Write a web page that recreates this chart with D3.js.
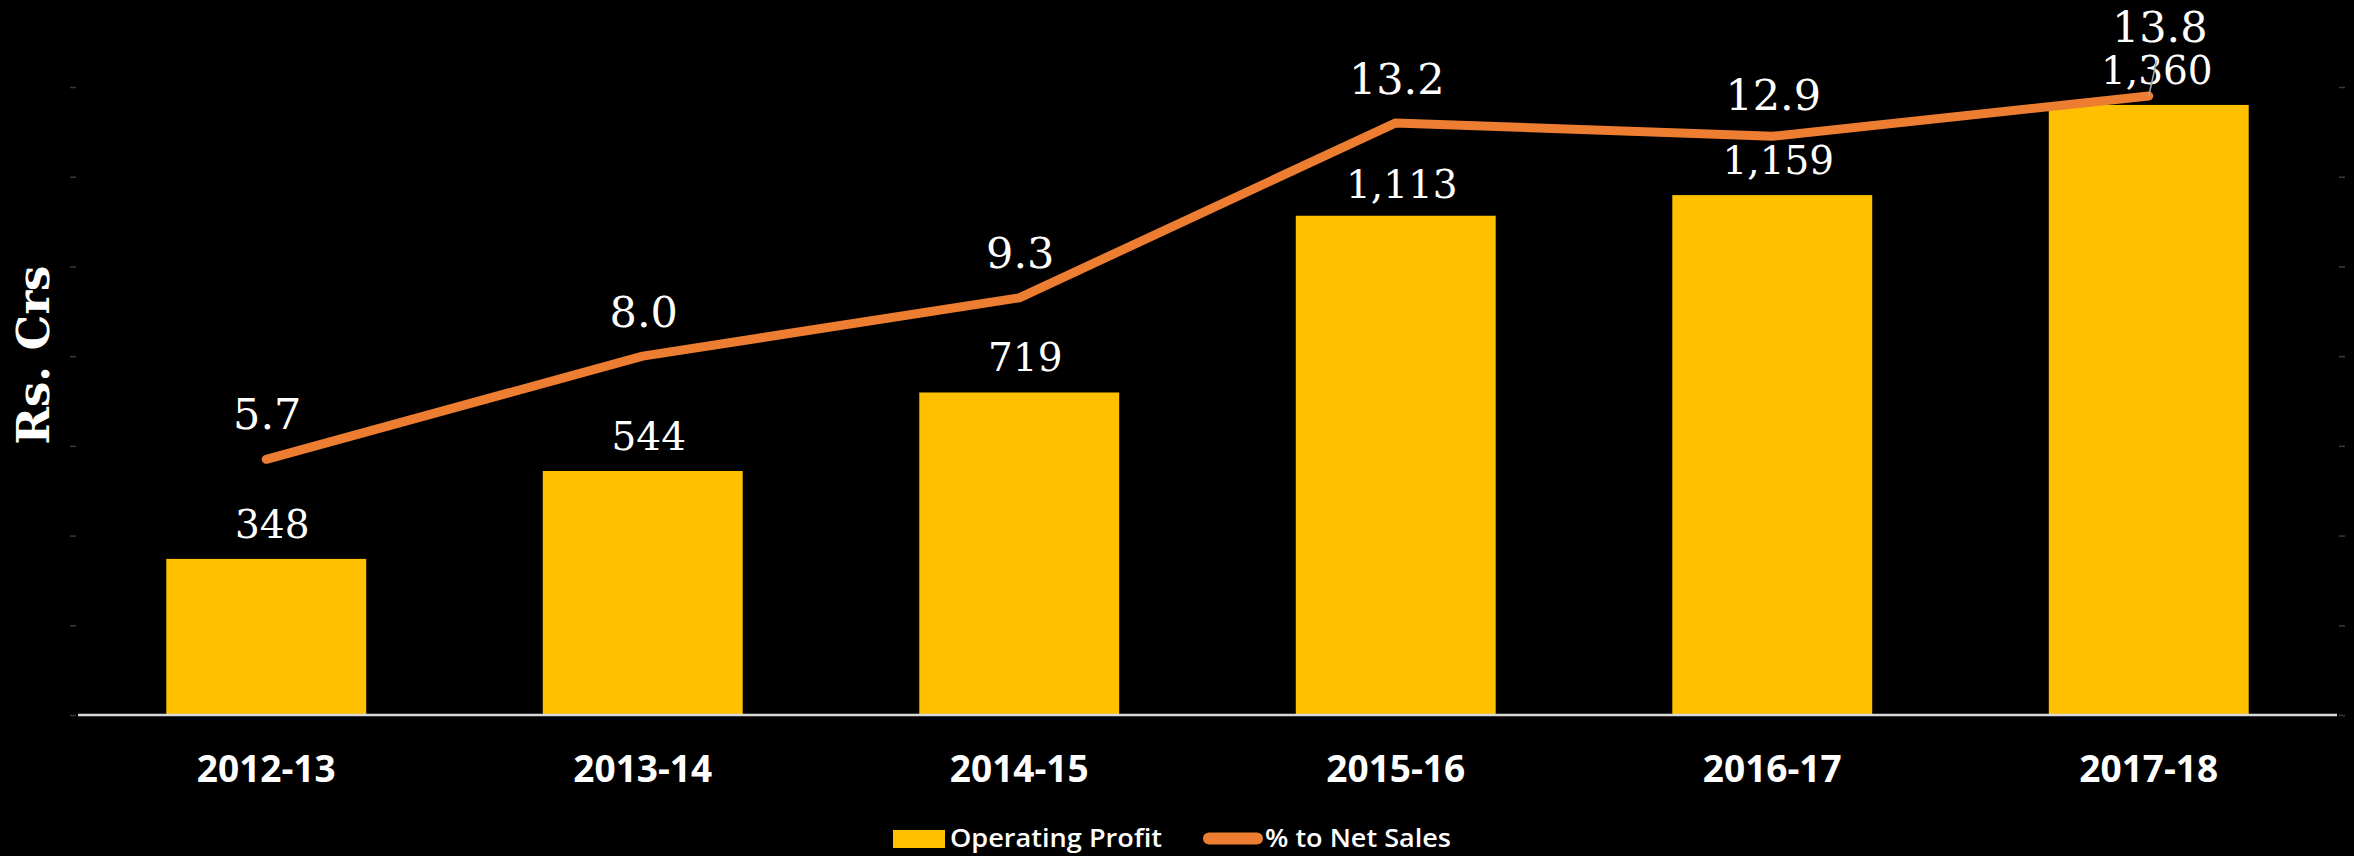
<!DOCTYPE html>
<html>
<head>
<meta charset="utf-8">
<script src="https://cdn.jsdelivr.net/npm/d3@7"></script>
<style>
  html, body { margin: 0; padding: 0; background: #000; }
  svg { display: block; }
</style>
</head>
<body>
<svg id="chart" width="2354" height="856"></svg>
<script>
// Operating profit (Rs. Crs) and its share of net sales (%)
const years = ["2012-13", "2013-14", "2014-15", "2015-16", "2016-17", "2017-18"];
const operatingProfit = [348, 544, 719, 1113, 1159, 1360];
const pctNetSales = [5.7, 8.0, 9.3, 13.2, 12.9, 13.8];
const profitTicks = [0, 200, 400, 600, 800, 1000, 1200, 1400];
const pctTicks = [0, 2, 4, 6, 8, 10, 12, 14];

const svg = d3.select("#chart");
const W = 2354, H = 856;
svg.append("rect").attr("width", W).attr("height", H).attr("fill", "#000");

const plot = { left: 78, right: 2337, top: 87, bottom: 715 };

const x = d3.scaleBand()
  .domain(years)
  .range([plot.left, plot.right])
  .paddingInner(0.469)
  .paddingOuter(0.2345);

const yProfit = d3.scaleLinear().domain([0, 1400]).range([plot.bottom, plot.top]);
const yPct = d3.scaleLinear().domain([0, 14]).range([plot.bottom, plot.top]);

// faint tick marks on both value axes (labels hidden)
const leftAxis = svg.append("g")
  .attr("transform", `translate(${plot.left - 2},0)`)
  .call(d3.axisLeft(yProfit).tickValues(profitTicks).tickSize(6).tickFormat(""));
const rightAxis = svg.append("g")
  .attr("transform", `translate(${plot.right + 2},0)`)
  .call(d3.axisRight(yPct).tickValues(pctTicks).tickSize(6).tickFormat(""));
[leftAxis, rightAxis].forEach(a => {
  a.select(".domain").remove();
  a.selectAll(".tick line").attr("stroke", "#3a3a3a").attr("stroke-width", 1.5);
});

// bars
svg.append("g").selectAll("rect")
  .data(years)
  .join("rect")
  .attr("x", d => x(d))
  .attr("width", x.bandwidth())
  .attr("y", (d, i) => yProfit(operatingProfit[i]))
  .attr("height", (d, i) => yProfit(0) - yProfit(operatingProfit[i]))
  .attr("fill", "#FFC000");

// baseline
svg.append("line")
  .attr("x1", plot.left).attr("x2", plot.right)
  .attr("y1", plot.bottom).attr("y2", plot.bottom)
  .attr("stroke", "#d9d9d9").attr("stroke-width", 2.5);

// percentage line
const cx = d => x(d) + x.bandwidth() / 2;
const line = d3.line()
  .x((d, i) => cx(years[i]))
  .y(d => yPct(d));
svg.append("path")
  .datum(pctNetSales)
  .attr("d", line)
  .attr("fill", "none")
  .attr("stroke", "#ED7D31")
  .attr("stroke-width", 9)
  .attr("stroke-linecap", "round")
  .attr("stroke-linejoin", "round");

const fmt = d3.format(",");
const labelFont = "'DejaVu Serif', serif";

// bar value labels
const barLabelY = (d, i) => {
  const v = operatingProfit[i];
  return yProfit(v) - (i === 3 ? 18 : 21);
};
svg.append("g").selectAll("text")
  .data(years)
  .join("text")
  .attr("x", (d, i) => cx(d) + (i === 5 ? 8 : 6))
  .attr("y", barLabelY)
  .attr("text-anchor", "middle")
  .attr("font-family", labelFont)
  .attr("font-size", 39)
  .attr("fill", "#fff")
  .text((d, i) => fmt(operatingProfit[i]));

// leader line for the last bar label
{
  const i = 5;
  svg.append("line")
    .attr("x1", cx(years[i])).attr("y1", yPct(pctNetSales[i]))
    .attr("x2", cx(years[i]) + 8).attr("y2", yPct(pctNetSales[i]) - 36)
    .attr("stroke", "#a6a6a6").attr("stroke-width", 1.5);
}

// percentage labels
const pctOffset = [30, 29, 30, 29, 26, 54];
svg.append("g").selectAll("text")
  .data(years)
  .join("text")
  .attr("x", (d, i) => cx(d) + (i === 5 ? 11 : 1))
  .attr("y", (d, i) => yPct(pctNetSales[i]) - pctOffset[i])
  .attr("text-anchor", "middle")
  .attr("font-family", labelFont)
  .attr("font-size", 43)
  .attr("fill", "#fff")
  .text((d, i) => pctNetSales[i].toFixed(1));

// category labels
svg.append("g").selectAll("text")
  .data(years)
  .join("text")
  .attr("x", d => cx(d))
  .attr("y", 782)
  .attr("text-anchor", "middle")
  .attr("font-family", "'Open Sans', sans-serif")
  .attr("font-weight", 700)
  .attr("font-size", 37)
  .attr("fill", "#fff")
  .text(d => d);

// y-axis title
svg.append("text")
  .attr("transform", "translate(49,355) rotate(-90)")
  .attr("text-anchor", "middle")
  .attr("font-family", "'DejaVu Serif', serif")
  .attr("font-weight", 700)
  .attr("font-size", 45)
  .attr("fill", "#fff")
  .text("Rs. Crs");

// legend
const legend = svg.append("g");
legend.append("rect")
  .attr("x", 893).attr("y", 830).attr("width", 52).attr("height", 18)
  .attr("fill", "#FFC000");
legend.append("text")
  .attr("x", 950).attr("y", 847)
  .attr("font-family", "'Open Sans', sans-serif")
  .attr("font-weight", 600)
  .attr("font-size", 25)
  .attr("textLength", 212)
  .attr("lengthAdjust", "spacingAndGlyphs")
  .attr("fill", "#fff")
  .text("Operating Profit");
legend.append("line")
  .attr("x1", 1209).attr("x2", 1257).attr("y1", 838.5).attr("y2", 838.5)
  .attr("stroke", "#ED7D31").attr("stroke-width", 12).attr("stroke-linecap", "round");
legend.append("text")
  .attr("x", 1265).attr("y", 847)
  .attr("font-family", "'Open Sans', sans-serif")
  .attr("font-weight", 600)
  .attr("font-size", 25)
  .attr("textLength", 186)
  .attr("lengthAdjust", "spacingAndGlyphs")
  .attr("fill", "#fff")
  .text("% to Net Sales");
</script>
</body>
</html>
